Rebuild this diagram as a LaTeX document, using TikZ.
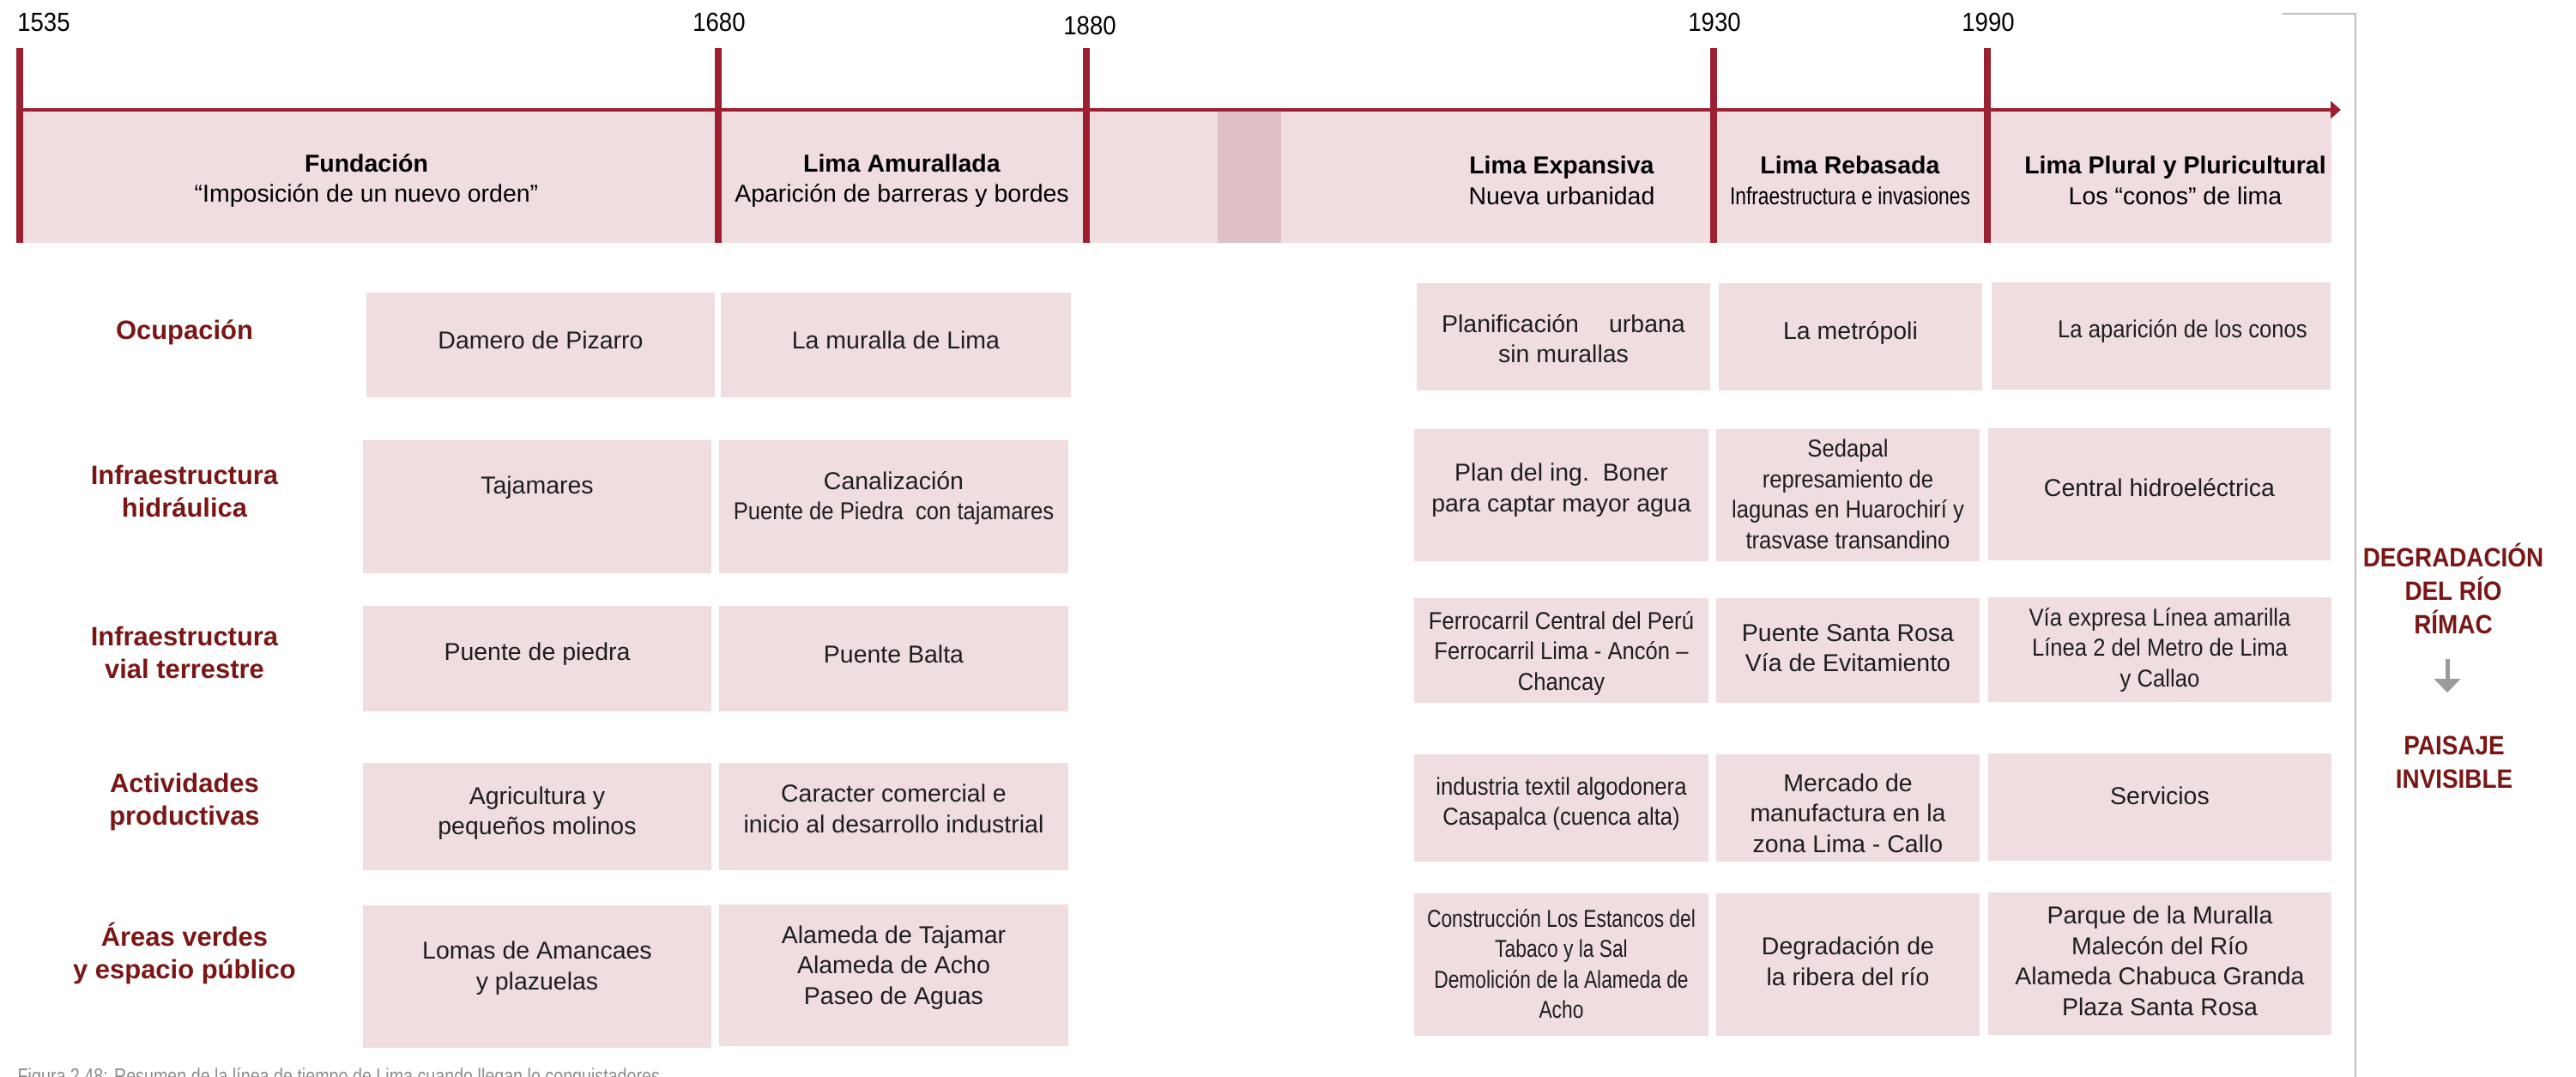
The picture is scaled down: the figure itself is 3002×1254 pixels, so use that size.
\documentclass[tikz,border=0pt]{standalone}
\usepackage{fontspec}
\setmainfont{Liberation Sans}
\newfontfamily\condA{Liberation Sans}[FakeStretch=0.9]
\newfontfamily\condB{Liberation Sans}[FakeStretch=0.8]
\usetikzlibrary{arrows.meta,fit}

\definecolor{cellpink}{RGB}{239,221,224}
\definecolor{stripepink}{RGB}{224,192,198}
\definecolor{barred}{RGB}{155,32,50}
\definecolor{labelred}{RGB}{122,22,22}
\definecolor{railgray}{RGB}{190,190,190}
\definecolor{arrowgray}{RGB}{155,155,155}
\definecolor{captiongray}{RGB}{140,140,140}
\definecolor{ink}{RGB}{30,30,30}

\tikzset{
  cellbg/.style={inner sep=0pt, outer sep=0pt, fill=cellpink, draw=none},
  celltxt/.style={align=center, inner sep=0pt, text=ink,
    font=\fontsize{8.1pt}{10.1pt}\selectfont},
  headtxt/.style={align=center, inner sep=0pt, text=black,
    font=\fontsize{8.1pt}{10.1pt}\selectfont},
  rowlbl/.style={align=center, inner sep=0pt, text=labelred,
    font=\fontsize{8.8pt}{10.8pt}\selectfont\bfseries},
  yearlbl/.style={inner sep=0pt, text=black,
    font=\fontsize{8.7pt}{10pt}\selectfont\condA},
  sidetxt/.style={align=center, inner sep=0pt, text=labelred,
    font=\fontsize{8.8pt}{11.1pt}\selectfont\condA\bfseries},
  axisline/.style={draw=barred, line width=0.04cm,
    -{Triangle[length=0.12cm,width=0.2cm]}},
  periodbar/.style={draw=barred, line width=0.08cm},
  rail/.style={draw=railgray, line width=0.025cm},
  downarrow/.style={draw=arrowgray, line width=0.05cm,
    -{Triangle[length=0.16cm,width=0.3cm]}},
  captiontxt/.style={inner sep=0pt, text=captiongray,
    font=\fontsize{7pt}{8pt}\selectfont\condB}
}

% box from (x1,y1) to (x2,y2) with its text shifted by (dx,dy)
\newcommand\cell[9]{%
  \node[cellbg, fit={(#2,#3) (#4,#5)}] (#1) {};
  \node[celltxt,#8] (#1t) at ([shift={(#6,#7)}]#1.center) {#9};}

\begin{document}
\begin{tikzpicture}[x=0.01cm, y=-0.01cm]
\useasboundingbox (0,0) rectangle (3002,1254);
\clip (0,0) rectangle (3002,1254);

% period band of the timeline
\fill[cellpink] (23,128) rectangle (2717,283);
\fill[stripepink] (1419,128) rectangle (1493,283);

% time axis
\coordinate (axS) at (23,128);
\coordinate (axE) at (2728,128);
\draw[axisline] (axS) -- (axE);

% period limits
\foreach \px/\nm in {23/a, 837/b, 1266/c, 1997/d, 2316/e}{
  \coordinate (bar\nm top) at (\px,56);
  \coordinate (bar\nm bot) at (\px,283);
  \draw[periodbar] (bar\nm top) -- (bar\nm bot);
}

% years
\node[yearlbl] (y1535) at (51,26) {1535};
\node[yearlbl] (y1680) at (838,26) {1680};
\node[yearlbl] (y1880) at (1270,29.5) {1880};
\node[yearlbl] (y1930) at (1998,26) {1930};
\node[yearlbl] (y1990) at (2317,26) {1990};

% period titles
\node[headtxt] (h1) at (427,210.5) {\textbf{Fundación}\\“Imposición de un nuevo orden”};
\node[headtxt] (h2) at (1051,210.5) {\textbf{Lima Amurallada}\\Aparición de barreras y bordes};
\node[headtxt] (h3) at (1820,210.5) {\textbf{Lima Expansiva}\\Nueva urbanidad};
\node[headtxt] (h4) at (2156,210.5) {\textbf{Lima Rebasada}\\{\condB Infraestructura e invasiones}};
\node[headtxt] (h5) at (2535,210.5) {\textbf{Lima Plural y Pluricultural}\\Los “conos” de lima};

% right rail
\coordinate (railA) at (2660,16);
\coordinate (railB) at (2745,16);
\coordinate (railC) at (2745,1260);
\draw[rail] (railA) -- (railB) -- (railC);

% row labels
\node[rowlbl] (r1) at (215,387) {Ocupación};
\node[rowlbl] (r2) at (215,572) {Infraestructura\\hidráulica};
\node[rowlbl] (r3) at (215,760) {Infraestructura\\vial terrestre};
\node[rowlbl] (r4) at (215,934) {Actividades\\productivas};
\node[rowlbl] (r5) at (215,1110.5) {Áreas verdes\\y espacio público};

% Ocupación
\cell{ocA}{427}{341}{833}{463}{0}{-6}{}{Damero de Pizarro}
\cell{ocB}{840}{341}{1248}{463}{0}{-6}{}{La muralla de Lima}
\cell{ocC}{1651}{330}{1993}{455}{0}{2}{}{Planificación\hspace{10pt}urbana\\sin murallas}
\cell{ocD}{2003}{330}{2310}{455}{0}{-5}{}{La metrópoli}
\cell{ocE}{2321}{329}{2716}{454}{25}{-6}{font=\fontsize{8.1pt}{10.1pt}\selectfont\condA}{La aparición de los conos}

% Infraestructura hidráulica
\cell{hiA}{423}{513}{829}{668}{0}{-22}{}{Tajamares}
\cell{hiB}{838}{513}{1245}{668}{0}{-10}{}{Canalización\\{\condA Puente de Piedra\ \ con tajamares}}
\cell{hiC}{1648}{500}{1991}{654}{0}{-6}{}{Plan del ing.\ \ Boner\\para captar mayor agua}
\cell{hiD}{2000}{500}{2307}{654}{0}{-1}{font=\fontsize{8.1pt}{10.1pt}\selectfont\condA}{Sedapal\\represamiento de\\lagunas en Huarochirí y\\trasvase transandino}
\cell{hiE}{2317}{499}{2716}{653}{0}{-8}{}{Central hidroeléctrica}

% Infraestructura vial terrestre
\cell{viA}{423}{706}{829}{829}{0}{-5}{}{Puente de piedra}
\cell{viB}{838}{706}{1245}{829}{0}{-5}{}{Puente Balta}
\cell{viC}{1648}{697}{1991}{819}{0}{3}{font=\fontsize{8.1pt}{10.1pt}\selectfont\condA}{Ferrocarril Central del Perú\\Ferrocarril Lima - Ancón –\\Chancay}
\cell{viD}{2000}{697}{2307}{819}{0}{-3}{}{Puente Santa Rosa\\Vía de Evitamiento}
\cell{viE}{2317}{696}{2717}{818}{0}{0}{font=\fontsize{8.1pt}{10.1pt}\selectfont\condA}{Vía expresa Línea amarilla\\Línea 2 del Metro de Lima\\y Callao}

% Actividades productivas
\cell{apA}{423}{889}{829}{1014}{0}{-4}{}{Agricultura y\\pequeños molinos}
\cell{apB}{838}{889}{1245}{1014}{0}{-9}{}{Caracter comercial e\\inicio al desarrollo industrial}
\cell{apC}{1648}{879}{1991}{1004}{0}{-5}{font=\fontsize{8.1pt}{10.1pt}\selectfont\condA}{industria textil algodonera\\Casapalca (cuenca alta)}
\cell{apD}{2000}{879}{2307}{1004}{0}{6}{}{Mercado de\\manufactura en la\\zona Lima - Callo}
\cell{apE}{2317}{878}{2717}{1003}{0}{-13}{}{Servicios}

% Áreas verdes y espacio público
\cell{avA}{423}{1055}{829}{1221}{0}{-10}{}{Lomas de Amancaes\\y plazuelas}
\cell{avB}{838}{1054}{1245}{1219}{0}{-9}{}{Alameda de Tajamar\\Alameda de Acho\\Paseo de Aguas}
\cell{avC}{1648}{1041}{1991}{1207}{0}{-1}{font=\fontsize{8.1pt}{10.1pt}\selectfont\condB}{Construcción Los Estancos del\\Tabaco y la Sal\\Demolición de la Alameda de\\Acho}
\cell{avD}{2000}{1041}{2307}{1207}{0}{-4}{}{Degradación de\\la ribera del río}
\cell{avE}{2317}{1040}{2717}{1206}{0}{-3}{}{Parque de la Muralla\\Malecón del Río\\Alameda Chabuca Granda\\Plaza Santa Rosa}

% conclusion
\node[sidetxt] (deg) at (2859,686) {DEGRADACIÓN\\DEL RÍO\\RÍMAC};
\coordinate (dgS) at (2852,768);
\coordinate (dgE) at (2852,807);
\draw[downarrow] (dgS) -- (dgE);
\node[sidetxt] (pai) at (2860,888) {PAISAJE\\INVISIBLE};

% caption
\node[captiontxt, anchor=base west] (cap) at (20,1262)
  {Figura 2.48: Resumen de la línea de tiempo de Lima cuando llegan lo conquistadores};
\end{tikzpicture}
\end{document}
